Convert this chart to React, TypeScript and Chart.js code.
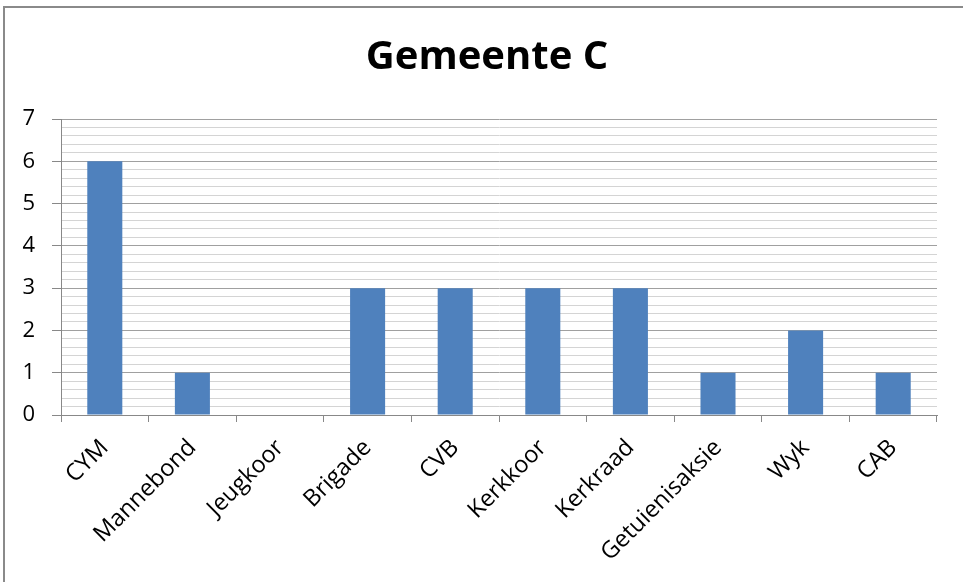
import React, { useEffect, useRef } from 'react';
import { Chart, registerables } from 'chart.js';

Chart.register(...registerables);

const title = 'Gemeente C';
const categories = ['CYM', 'Mannebond', 'Jeugkoor', 'Brigade', 'CVB', 'Kerkkoor', 'Kerkraad', 'Getuienisaksie', 'Wyk', 'CAB'];
const values = [6, 1, 0, 3, 3, 3, 3, 1, 2, 1];
const yMin = 0;
const yMax = 7;
const yMinorStep = 0.2;

const FONT = '"Open Sans", "Noto Sans", sans-serif';

const isMajor = (v: number) => Math.abs(v - Math.round(v)) < 1e-6;

const titleShift = {
  id: 'titleShift',
  afterLayout(chart: any) {
    if (chart.titleBlock) {
      chart.titleBlock.left = 37;
    }
  },
};

export default function App() {
  const ref = useRef<HTMLCanvasElement | null>(null);

  useEffect(() => {
    if (!ref.current) return;
    const chart = new Chart(ref.current, {
      type: 'bar',
      data: {
        labels: categories,
        datasets: [
          {
            data: values,
            backgroundColor: '#4F81BD',
            borderWidth: 0,
            barPercentage: 0.4,
            categoryPercentage: 1,
          },
        ],
      },
      plugins: [titleShift],
      options: {
        responsive: false,
        animation: false,
        devicePixelRatio: 1,
        layout: { padding: { left: 0, right: 26, top: 0, bottom: 0 } },
        plugins: {
          legend: { display: false },
          tooltip: { enabled: false },
          title: {
            display: true,
            text: title,
            color: '#000',
            font: { family: FONT, size: 40, weight: 'bold', lineHeight: 1.2 },
            padding: { top: 34, bottom: 37 },
          },
        },
        scales: {
          x: {
            offset: true,
            grid: {
              display: true,
              drawOnChartArea: false,
              offset: true,
              tickLength: 7,
              color: '#888',
            },
            border: { color: '#888', width: 1 },
            ticks: {
              autoSkip: false,
              maxRotation: 45,
              minRotation: 45,
              padding: 12,
              color: '#000',
              font: { family: FONT, size: 23.5 },
            },
            afterFit: (scale: any) => {
              scale.height = 167;
            },
          },
          y: {
            min: yMin,
            max: yMax,
            ticks: {
              stepSize: yMinorStep,
              autoSkip: false,
              padding: 17,
              color: '#000',
              font: { family: FONT, size: 22 },
              callback: (v: any) => (isMajor(Number(v)) ? String(Math.round(Number(v))) : ''),
            },
            grid: {
              tickLength: 9,
              color: (ctx: any) => (isMajor(ctx.tick.value) ? '#a0a0a0' : '#d4d4d4'),
              tickColor: (ctx: any) => (isMajor(ctx.tick.value) ? '#888' : 'rgba(0,0,0,0)'),
              lineWidth: 1,
            },
            border: { color: '#888', width: 1 },
            afterFit: (scale: any) => {
              scale.width = 61;
            },
          },
        },
      },
    });
    return () => chart.destroy();
  }, []);

  return (
    <div style={{ position: 'fixed', left: 0, top: 0, width: 963, height: 582, background: '#fff', overflow: 'hidden' }}>
      <div
        style={{
          position: 'absolute',
          left: 3,
          top: 6,
          width: 1200,
          height: 800,
          borderTop: '2px solid #8a8a8a',
          borderLeft: '2px solid #8a8a8a',
        }}
      />
      <canvas ref={ref} width={963} height={582} style={{ position: 'absolute', left: 0, top: 0, display: 'block' }} />
    </div>
  );
}
